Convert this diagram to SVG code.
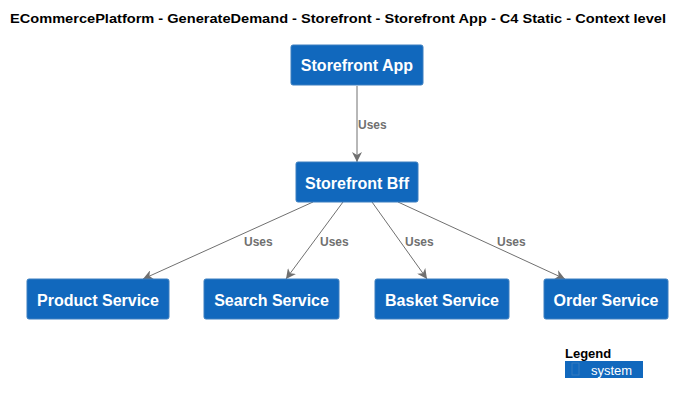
<svg xmlns="http://www.w3.org/2000/svg" width="687" height="404" viewBox="0 0 687 404">
<style>
.node rect{fill:#1168BD;stroke:#3C7FC0;stroke-width:1}
.node text{fill:#FFFFFF;font-family:"Liberation Sans",Arial,sans-serif;font-size:16px;font-weight:bold;text-anchor:middle}
.edge line{stroke:#707070;stroke-width:1;fill:none}
.lbl{fill:#707070;font-family:"Liberation Sans",Arial,sans-serif;font-size:12px;font-weight:bold}
.title{fill:#000;font-family:"Liberation Sans",Arial,sans-serif;font-size:13px;font-weight:bold}
</style>
<defs>
<marker id="arr" viewBox="0 0 10 10" refX="10" refY="5" markerWidth="10" markerHeight="10" markerUnits="userSpaceOnUse" orient="auto">
<path d="M0,0 L10,5 L0,10 L3,5 Z" fill="#707070"/>
</marker>
</defs>
<rect width="687" height="404" fill="#FFFFFF"/>
<text class="title" x="10" y="23" textLength="656" lengthAdjust="spacingAndGlyphs">ECommercePlatform - GenerateDemand - Storefront - Storefront App - C4 Static - Context level</text>
<g id="connectors" class="edge">
<line x1="357" y1="86" x2="357" y2="162" marker-end="url(#arr)"/>
<line x1="313" y1="202" x2="143" y2="279" marker-end="url(#arr)"/>
<line x1="343" y1="202" x2="286" y2="279" marker-end="url(#arr)"/>
<line x1="372" y1="202" x2="427" y2="279" marker-end="url(#arr)"/>
<line x1="398" y1="202" x2="565" y2="279" marker-end="url(#arr)"/>
<text class="lbl" x="358" y="129">Uses</text>
<text class="lbl" x="244" y="246">Uses</text>
<text class="lbl" x="320" y="246">Uses</text>
<text class="lbl" x="405" y="246">Uses</text>
<text class="lbl" x="497" y="246">Uses</text>
</g>
<g id="storefront-app" class="node"><rect x="291" y="45" width="132" height="40" rx="2"/><text x="357" y="71">Storefront App</text></g>
<g id="storefront-bff" class="node"><rect x="296" y="162" width="122" height="40" rx="2"/><text x="357" y="189">Storefront Bff</text></g>
<g id="product-service" class="node"><rect x="27" y="279" width="142" height="40" rx="2"/><text x="98" y="306">Product Service</text></g>
<g id="search-service" class="node"><rect x="204" y="279" width="135" height="40" rx="2"/><text x="271.5" y="306">Search Service</text></g>
<g id="basket-service" class="node"><rect x="375" y="279" width="134" height="40" rx="2"/><text x="442" y="306">Basket Service</text></g>
<g id="order-service" class="node"><rect x="544" y="279" width="124" height="40" rx="2"/><text x="606" y="306">Order Service</text></g>
<g id="legend">
<text x="565" y="358" style="font-family:'Liberation Sans',Arial,sans-serif;font-size:13px;font-weight:bold;fill:#000">Legend</text>
<rect x="565" y="361" width="78" height="17" fill="#1168BD"/>
<rect x="572" y="363" width="7" height="12" fill="none" stroke="#3C7FC0" stroke-width="0.8"/>
<text x="591" y="375" style="font-family:'Liberation Sans',Arial,sans-serif;font-size:13px;fill:#FFFFFF">system</text>
</g>
</svg>
